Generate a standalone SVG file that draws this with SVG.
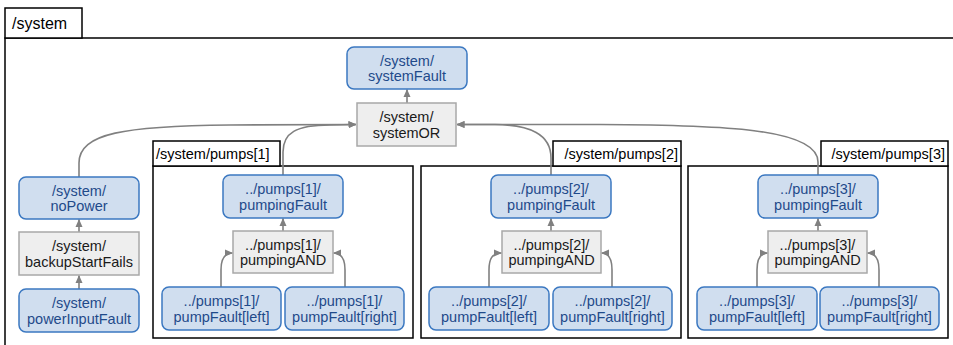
<svg xmlns="http://www.w3.org/2000/svg" width="953" height="345" viewBox="0 0 953 345">
<style>
text{font-family:"Liberation Sans",Arial,sans-serif;font-size:14.5px}
.b rect{fill:#d0deef;stroke:#3b78c1;stroke-width:1.5}
.b text{fill:#1f4a8a;text-anchor:middle}
.g rect{fill:#eeeeee;stroke:#a8a8a8;stroke-width:1.5}
.g text{fill:#1a1a1a;text-anchor:middle}
.frame{fill:none;stroke:#000;stroke-width:1.5}
.tab{fill:#fff;stroke:#000;stroke-width:1.5}
.lbl{fill:#000}
.c path{fill:none;stroke:#808080;stroke-width:1.6;marker-end:url(#ah)}
</style>
<defs>
<marker id="ah" markerWidth="8" markerHeight="8" refX="7.5" refY="4" orient="auto" markerUnits="userSpaceOnUse">
<path d="M0,0.5 L8,4 L0,7.5 z" fill="#808080"/>
</marker>
</defs>
<rect width="953" height="345" fill="#fff"/>
<g id="system">
<path class="frame" d="M5,346 V38 H954"/>
<rect class="tab" x="5" y="8" width="77" height="30"/>
<text class="lbl" x="12" y="29" style="font-size:16px">/system</text>
</g>
<g id="pumps1">
<rect class="frame" x="153" y="166" width="260" height="172"/>
<rect class="tab" x="153" y="141" width="127" height="25"/>
<text class="lbl" x="156" y="159">/system/pumps[1]</text>
</g>
<g id="pumps2">
<rect class="frame" x="421" y="166" width="260" height="172"/>
<rect class="tab" x="553" y="141" width="128" height="25"/>
<text class="lbl" x="678" y="159" text-anchor="end">/system/pumps[2]</text>
</g>
<g id="pumps3">
<rect class="frame" x="688" y="166" width="260" height="172"/>
<rect class="tab" x="821" y="141" width="127" height="25"/>
<text class="lbl" x="945" y="159" text-anchor="end">/system/pumps[3]</text>
</g>
<g class="c" id="connectors">
<path d="M407,103 V89.5"/>
<path d="M79,177 V163 C79,133 125,126 230,125 L356,124.5"/>
<path d="M283,175 V152 C283,133 296,125 330,125 L356,124.5"/>
<path d="M551,175 V158 C551,134 530,125 495,124.5 L457,124.5"/>
<path d="M818,175 V162 C818,128 720,125 600,124.5 L457,124.5"/>
<path d="M79,232 V219.5"/>
<path d="M79,289 V275.5"/>
<path d="M283,231 V218.5"/>
<path d="M221,287 V270 C221,259 224,253 232.5,253"/>
<path d="M345,287 V270 C345,259 342,253 333.5,253"/>
<path d="M551,231 V218.5"/>
<path d="M489,287 V270 C489,259 492,253 501.5,253"/>
<path d="M612,287 V270 C612,259 609,253 601.5,253"/>
<path d="M818,231 V218.5"/>
<path d="M757,287 V270 C757,259 760,253 767.5,253"/>
<path d="M879,287 V270 C879,259 876,253 867.5,253"/>
</g>
<g id="systemFault" class="b"><rect x="347" y="47" width="120" height="42" rx="7"/><text x="407" y="65.5">/system/</text><text x="407" y="81">systemFault</text></g>
<g id="systemOR" class="g"><rect x="357" y="103" width="99" height="43"/><text x="406.5" y="122">/system/</text><text x="406.5" y="137.5">systemOR</text></g>
<g id="noPower" class="b"><rect x="19" y="177" width="120" height="42" rx="7"/><text x="79" y="195.5">/system/</text><text x="79" y="211">noPower</text></g>
<g id="backupStartFails" class="g"><rect x="19" y="232" width="120" height="43"/><text x="79" y="251">/system/</text><text x="79" y="266.5">backupStartFails</text></g>
<g id="powerInputFault" class="b"><rect x="19" y="289" width="120" height="43" rx="7"/><text x="79" y="308">/system/</text><text x="79" y="323.5">powerInputFault</text></g>

<g id="pumpingFault1" class="b"><rect x="223" y="175" width="120" height="43" rx="7"/><text x="283" y="194">../pumps[1]/</text><text x="283" y="209.5">pumpingFault</text></g>
<g id="pumpingAND1" class="g"><rect x="233" y="231" width="100" height="42"/><text x="283" y="249.5">../pumps[1]/</text><text x="283" y="265">pumpingAND</text></g>
<g id="pumpFaultLeft1" class="b"><rect x="162" y="287" width="119" height="43" rx="7"/><text x="221.5" y="306">../pumps[1]/</text><text x="221.5" y="321.5">pumpFault[left]</text></g>
<g id="pumpFaultRight1" class="b"><rect x="285" y="287" width="119" height="43" rx="7"/><text x="344.5" y="306">../pumps[1]/</text><text x="344.5" y="321.5">pumpFault[right]</text></g>

<g id="pumpingFault2" class="b"><rect x="491" y="175" width="120" height="43" rx="7"/><text x="551" y="194">../pumps[2]/</text><text x="551" y="209.5">pumpingFault</text></g>
<g id="pumpingAND2" class="g"><rect x="502" y="231" width="99" height="42"/><text x="551.5" y="249.5">../pumps[2]/</text><text x="551.5" y="265">pumpingAND</text></g>
<g id="pumpFaultLeft2" class="b"><rect x="429" y="287" width="120" height="43" rx="7"/><text x="489" y="306">../pumps[2]/</text><text x="489" y="321.5">pumpFault[left]</text></g>
<g id="pumpFaultRight2" class="b"><rect x="553" y="287" width="119" height="43" rx="7"/><text x="612.5" y="306">../pumps[2]/</text><text x="612.5" y="321.5">pumpFault[right]</text></g>

<g id="pumpingFault3" class="b"><rect x="758" y="175" width="120" height="43" rx="7"/><text x="818" y="194">../pumps[3]/</text><text x="818" y="209.5">pumpingFault</text></g>
<g id="pumpingAND3" class="g"><rect x="768" y="231" width="99" height="42"/><text x="817.5" y="249.5">../pumps[3]/</text><text x="817.5" y="265">pumpingAND</text></g>
<g id="pumpFaultLeft3" class="b"><rect x="697" y="287" width="120" height="43" rx="7"/><text x="757" y="306">../pumps[3]/</text><text x="757" y="321.5">pumpFault[left]</text></g>
<g id="pumpFaultRight3" class="b"><rect x="820" y="287" width="119" height="43" rx="7"/><text x="879.5" y="306">../pumps[3]/</text><text x="879.5" y="321.5">pumpFault[right]</text></g>
</svg>
